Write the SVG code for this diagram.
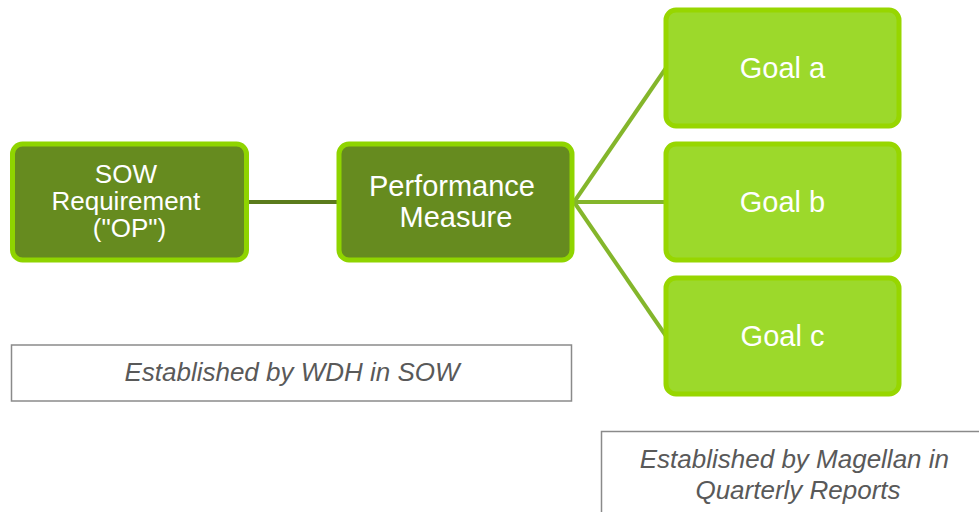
<svg xmlns="http://www.w3.org/2000/svg" width="979" height="512" viewBox="0 0 979 512">
  <style>
    .dark { fill: #668b1f; stroke: #8fd400; stroke-width: 5; }
    .goal { fill: #9cd92b; stroke: #97d600; stroke-width: 5; }
    .lbl { font-family: "Liberation Sans", Arial, sans-serif; fill: #ffffff; text-anchor: middle; }
    .note { fill: #ffffff; stroke: #8a8a8a; stroke-width: 1.5; }
    .notetxt { font-family: "Liberation Sans", Arial, sans-serif; font-style: italic; font-size: 26px; fill: #595959; text-anchor: middle; }
  </style>

  <!-- connectors -->
  <g id="connectors" fill="none" stroke-width="4">
    <line x1="248" y1="202" x2="339" y2="202" stroke="#5b7b1c"/>
    <line x1="574" y1="202" x2="666" y2="68" stroke="#84b62b"/>
    <line x1="574" y1="202" x2="666" y2="202" stroke="#84b62b"/>
    <line x1="574" y1="202" x2="666" y2="336" stroke="#84b62b"/>
  </g>

  <g id="sow">
    <rect class="dark" x="12.5" y="144" width="234" height="116" rx="10"/>
    <text class="lbl" font-size="26">
      <tspan x="129.5" y="183">SOW</tspan>
      <tspan x="129.5" y="210">Requirement</tspan>
      <tspan x="129.5" y="237">("OP")</tspan>
    </text>
  </g>

  <g id="performance">
    <rect class="dark" x="339" y="144" width="233" height="116" rx="10"/>
    <text class="lbl" font-size="29">
      <tspan x="456" y="196">Performance</tspan>
      <tspan x="456" y="227">Measure</tspan>
    </text>
  </g>

  <g id="goal-a">
    <rect class="goal" x="666" y="10" width="233" height="116" rx="10"/>
    <text class="lbl" font-size="29" x="782.5" y="78">Goal a</text>
  </g>

  <g id="goal-b">
    <rect class="goal" x="666" y="144" width="233" height="116" rx="10"/>
    <text class="lbl" font-size="29" x="782.5" y="212">Goal b</text>
  </g>

  <g id="goal-c">
    <rect class="goal" x="666" y="278" width="233" height="116" rx="10"/>
    <text class="lbl" font-size="29" x="782.5" y="346">Goal c</text>
  </g>

  <g id="note-wdh">
    <rect class="note" x="11.5" y="345" width="560" height="56"/>
    <text class="notetxt" x="292" y="381">Established by WDH in SOW</text>
  </g>

  <g id="note-magellan">
    <rect class="note" x="601.5" y="431.5" width="400" height="100"/>
    <text class="notetxt">
      <tspan x="798" y="468">Established by Magellan in</tspan>
      <tspan x="798" y="499">Quarterly Reports</tspan>
    </text>
  </g>
</svg>
